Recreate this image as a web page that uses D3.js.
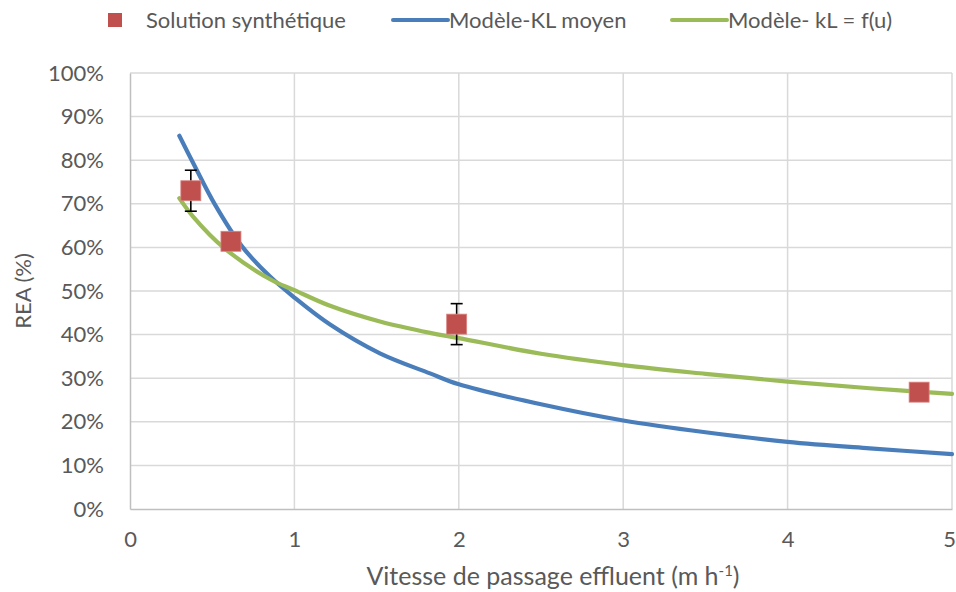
<!DOCTYPE html>
<html>
<head>
<meta charset="utf-8">
<script src="https://cdn.jsdelivr.net/npm/d3@7/dist/d3.min.js"></script>
<style>
  html, body { margin: 0; padding: 0; background: #fff; }
  svg text { font-family: Lato, "Open Sans", sans-serif; fill: #595959; }
</style>
</head>
<body>
<svg id="chart" width="956" height="592"></svg>
<script>
// Measured points (synthetic solution) with error bars
const measU = [0.37, 0.614, 1.987, 4.80];
const measREA = [0.730, 0.614, 0.424, 0.268];
const measErr = [0.047, 0, 0.047, 0];

// Model with mean KL
const klMoyenU = [0.30, 0.381, 0.517, 0.68, 0.852, 1.0, 1.217, 1.52, 1.825, 2.0, 2.514, 3.0, 3.5, 4.0, 4.5, 5.0];
const klMoyenREA = [0.856, 0.796, 0.698, 0.603, 0.533, 0.485, 0.423, 0.357, 0.311, 0.286, 0.239, 0.203, 0.176, 0.154, 0.139, 0.126];

// Model with kL = f(u)
const klFuU = [0.30, 0.385, 0.568, 0.852, 1.0, 1.217, 1.52, 1.825, 2.0, 2.5, 3.0, 3.5, 4.0, 4.5, 5.0];
const klFuREA = [0.713, 0.670, 0.600, 0.527, 0.502, 0.466, 0.430, 0.404, 0.392, 0.356, 0.330, 0.310, 0.292, 0.277, 0.264];

const xTicks = [0, 1, 2, 3, 4, 5];
const yTicks = [0, 0.1, 0.2, 0.3, 0.4, 0.5, 0.6, 0.7, 0.8, 0.9, 1.0];

const colRed = "#C0504D", colBlue = "#4A7EBB", colGreen = "#9BBB59";

const svg = d3.select("#chart");
const plotL = 130, plotR = 952, plotT = 73, plotB = 509;

const x = d3.scaleLinear().domain([0, 5]).range([plotL, plotR]);
const y = d3.scaleLinear().domain([0, 1]).range([plotB, plotT]);

// Grid
const grid = svg.append("g");
grid.selectAll("line.h").data(yTicks.slice(1)).join("line")
  .attr("x1", plotL).attr("x2", plotR)
  .attr("y1", d => y(d)).attr("y2", d => y(d))
  .attr("stroke", "#D9D9D9").attr("stroke-width", 1.5);
grid.selectAll("line.v").data(xTicks.slice(1)).join("line")
  .attr("y1", plotT).attr("y2", plotB)
  .attr("x1", d => x(d)).attr("x2", d => x(d))
  .attr("stroke", "#D9D9D9").attr("stroke-width", 1.5);

// Axes
const yAxis = d3.axisLeft(y).tickValues(yTicks).tickFormat(d3.format(".0%")).tickSize(0).tickPadding(26);
const gy = svg.append("g").attr("transform", `translate(${plotL},0)`).call(yAxis);
gy.select(".domain").attr("stroke", "#BFBFBF").attr("stroke-width", 1.5);
gy.selectAll("text").attr("font-size", 22).attr("fill", "#595959");

const xAxis = d3.axisBottom(x).tickValues(xTicks).tickFormat(d3.format("d")).tickSize(0).tickPadding(22);
const gx = svg.append("g").attr("transform", `translate(0,${plotB})`).call(xAxis);
gx.select(".domain").attr("stroke", "#BFBFBF").attr("stroke-width", 1.5);
gx.selectAll("text").attr("font-size", 22).attr("fill", "#595959");
gx.selectAll(".tick:last-of-type text").attr("dx", -3);
svg.selectAll("g").attr("font-family", null);

// Axis titles
svg.append("text")
  .attr("transform", `translate(31,${(plotT + plotB) / 2}) rotate(-90)`)
  .attr("text-anchor", "middle").attr("font-size", 22)
  .text("REA (%)");

const xt = svg.append("text")
  .attr("x", 553).attr("y", 585)
  .attr("text-anchor", "middle").attr("font-size", 25);
xt.append("tspan").text("Vitesse de passage effluent (m h");
xt.append("tspan").attr("font-size", 15).attr("dy", -9).text("-1");
xt.append("tspan").attr("dy", 9).text(")");

// Model curves
const line = d3.line().x(d => x(d[0])).y(d => y(d[1])).curve(d3.curveCatmullRom.alpha(0.5));
svg.append("path").datum(d3.zip(klMoyenU, klMoyenREA))
  .attr("d", line).attr("fill", "none").attr("stroke", colBlue)
  .attr("stroke-width", 4.2).attr("stroke-linecap", "round");
svg.append("path").datum(d3.zip(klFuU, klFuREA))
  .attr("d", line).attr("fill", "none").attr("stroke", colGreen)
  .attr("stroke-width", 4.2).attr("stroke-linecap", "round");

// Error bars
const meas = d3.zip(measU, measREA, measErr);
const eb = svg.append("g").attr("stroke", "#000").attr("stroke-width", 1.6);
meas.filter(d => d[2] > 0).forEach(d => {
  const cx = x(d[0]);
  eb.append("line").attr("x1", cx).attr("x2", cx).attr("y1", y(d[1] + d[2])).attr("y2", y(d[1] - d[2]));
  [d[1] + d[2], d[1] - d[2]].forEach(v => {
    eb.append("line").attr("x1", cx - 6).attr("x2", cx + 6).attr("y1", y(v)).attr("y2", y(v));
  });
});

// Markers
const ms = 20;
svg.append("g").selectAll("rect").data(meas).join("rect")
  .attr("x", d => x(d[0]) - ms / 2).attr("y", d => y(d[1]) - ms / 2)
  .attr("width", ms).attr("height", ms)
  .attr("fill", colRed).attr("stroke", "#D98683").attr("stroke-width", 0.8);

// Legend
const lg = svg.append("g");
lg.append("rect").attr("x", 108).attr("y", 13).attr("width", 14).attr("height", 14).attr("fill", colRed);
lg.append("text").attr("x", 146).attr("y", 28).attr("font-size", 22).text("Solution synthétique");
lg.append("line").attr("x1", 393).attr("x2", 448).attr("y1", 20).attr("y2", 20)
  .attr("stroke", colBlue).attr("stroke-width", 4).attr("stroke-linecap", "round");
lg.append("text").attr("x", 449).attr("y", 28).attr("font-size", 22).text("Modèle-KL moyen");
lg.append("line").attr("x1", 672).attr("x2", 727).attr("y1", 20).attr("y2", 20)
  .attr("stroke", colGreen).attr("stroke-width", 4).attr("stroke-linecap", "round");
lg.append("text").attr("x", 728).attr("y", 28).attr("font-size", 22).text("Modèle- kL = f(u)");
</script>
</body>
</html>
